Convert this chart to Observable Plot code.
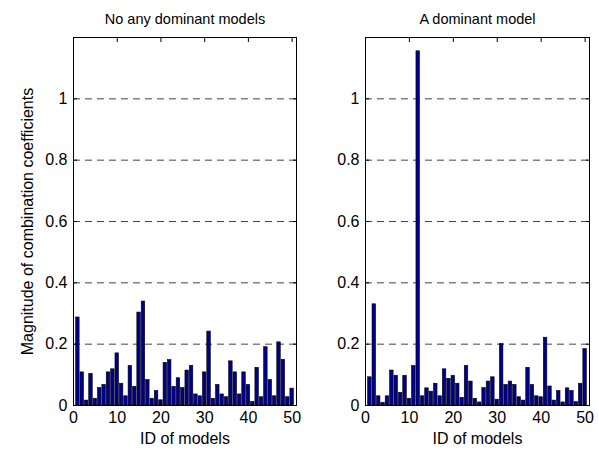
<!DOCTYPE html>
<html><head><meta charset="utf-8">
<script src="https://cdn.jsdelivr.net/npm/d3@7"></script>
<script src="https://cdn.jsdelivr.net/npm/@observablehq/plot@0.6"></script>
<style>
body{margin:0;background:#fff;}
#wrap{position:relative;width:599px;height:450px;overflow:hidden;}
.panel{position:absolute;top:0;}
</style></head><body><div id="wrap"></div>
<script>
const titles = ["No any dominant models", "A dominant model"];
const xLabel = "ID of models";
const yLabel = "Magnitude of combination coefficients";
const xTicks = [0, 10, 20, 30, 40, 50];
const yTicks = [0, 0.2, 0.4, 0.6, 0.8, 1];
const gridTicks = [0.2, 0.4, 0.6, 0.8, 1];
const noDominant = [0.287,0.108,0.016,0.103,0.022,0.057,0.067,0.108,0.118,0.170,
  0.071,0.030,0.129,0.061,0.303,0.339,0.083,0.022,0.047,0.017,
  0.139,0.148,0.061,0.089,0.057,0.114,0.129,0.036,0.030,0.108,
  0.241,0.022,0.067,0.036,0.027,0.144,0.108,0.036,0.108,0.067,
  0.011,0.123,0.027,0.190,0.083,0.030,0.206,0.149,0.027,0.055];
const dominant = [0.092,0.330,0.030,0.009,0.030,0.114,0.097,0.041,0.097,0.022,
  0.129,1.155,0.030,0.056,0.045,0.071,0.030,0.118,0.087,0.097,
  0.071,0.025,0.129,0.078,0.022,0.010,0.057,0.078,0.092,0.019,
  0.200,0.067,0.078,0.067,0.027,0.016,0.123,0.067,0.030,0.027,
  0.221,0.062,0.016,0.047,0.010,0.056,0.047,0.011,0.071,0.184];

const font = "'Liberation Sans', Arial, Helvetica, sans-serif";

function panel(values, title, left, width, marginLeft, marginRight, showY) {
  const data = values.map((v, i) => ({id: i + 1, v}));
  const chart = Plot.plot({
    width, height: 450,
    marginTop: 37, marginBottom: 45, marginLeft, marginRight,
    style: {fontFamily: font, fontSize: "14px", color: "#000", background: "transparent", overflow: "visible"},
    x: {domain: [0, 51]},
    y: {domain: [0, 1.2]},
    marks: [
      Plot.ruleY(gridTicks, {stroke: "#444", strokeDasharray: "7,5", strokeWidth: 1}),
      Plot.rectY(data, {x1: d => d.id - 0.4, x2: d => d.id + 0.4, y: "v", fill: "#000088", stroke: "#000", strokeWidth: 0.6}),
      Plot.frame({stroke: "#000"}),
      Plot.axisX(xTicks, {anchor: "bottom", tickSize: -4, tickPadding: 10, fontSize: 16,
        label: xLabel, labelAnchor: "center", labelArrow: "none", labelOffset: 38}),
      Plot.axisX(xTicks, {anchor: "top", tickSize: -4, tickFormat: () => "", label: null}),
      Plot.axisY(yTicks, {anchor: "left", tickSize: -4, tickPadding: 10, fontSize: 16,
        tickFormat: d => String(d),
        label: showY ? yLabel : null, labelAnchor: "center", labelArrow: "none", labelOffset: 52}),
      Plot.axisY(yTicks, {anchor: "right", tickSize: -4, tickFormat: () => "", label: null}),
      Plot.text([title], {frameAnchor: "top", dy: -24, fontSize: 14.5})
    ]
  });
  chart.classList.add("panel");
  chart.style.left = left + "px";
  document.getElementById("wrap").appendChild(chart);
}
panel(noDominant, titles[0], 0, 300, 73, 4, true);
panel(dominant, titles[1], 300, 299, 65, 10, false);
</script></body></html>
